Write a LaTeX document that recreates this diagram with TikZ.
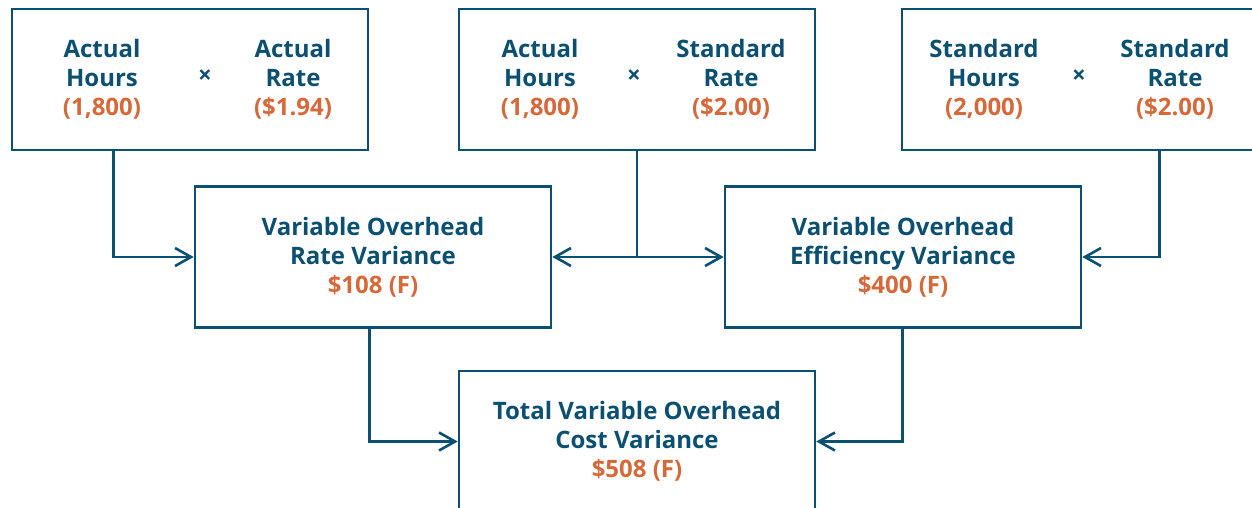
\documentclass[tikz,border=0pt]{standalone}
\usepackage{fontspec}
\setmainfont{Open Sans}
\usetikzlibrary{arrows.meta,positioning}
\definecolor{deepblue}{RGB}{11,79,113}
\definecolor{rust}{RGB}{213,105,57}
\tikzset{
  box/.style={draw=deepblue,line width=2.6pt,minimum width=356pt,minimum height=141pt,inner sep=0pt},
  lbl/.style={text=deepblue,font=\fontsize{24}{29}\selectfont\bfseries,align=center,inner sep=0pt},
  times/.style={text=deepblue,font=\fontsize{24}{29}\selectfont\bfseries,inner sep=0pt},
  link/.style={deepblue,line width=2.6pt,-{Straight Barb[length=16pt,width=18pt]}}
}
\begin{document}
\begin{tikzpicture}[x=1pt,y=-1pt]
  \clip (0,0) rectangle (1252,507);
  % top boxes
  \node[box] (hrsA) at (190,79.5) {};
  \node[box] (hrsB) at (637,79.5) {};
  \node[box] (hrsC) at (1080,79.5) {};
  \node[lbl] (aHrs) at (102,79) {Actual\\Hours\\\textcolor{rust}{(1,800)}};
  \node[times] (aTimes) at (205,77) {×};
  \node[lbl] (aRate) at (293,79) {Actual\\Rate\\\textcolor{rust}{(\$1.94)}};
  \node[lbl] (bHrs) at (540,79) {Actual\\Hours\\\textcolor{rust}{(1,800)}};
  \node[times] (bTimes) at (634,77) {×};
  \node[lbl] (bRate) at (731,79) {Standard\\Rate\\\textcolor{rust}{(\$2.00)}};
  \node[lbl] (cHrs) at (984,79) {Standard\\Hours\\\textcolor{rust}{(2,000)}};
  \node[times] (cTimes) at (1079,77) {×};
  \node[lbl] (cRate) at (1175,79) {Standard\\Rate\\\textcolor{rust}{(\$2.00)}};
  % variance boxes
  \node[box,lbl] (rateV) at (373,257) {Variable Overhead\\Rate Variance\\\textcolor{rust}{\$108 (F)}};
  \node[box,lbl] (effV) at (903,257) {Variable Overhead\\Efficiency Variance\\\textcolor{rust}{\$400 (F)}};
  \node[box,lbl] (totV) at (637,441.5) {Total Variable Overhead\\Cost Variance\\\textcolor{rust}{\$508 (F)}};
  % connectors
  \draw[link] (hrsA.south west) ++(103,0) |- (rateV);
  \draw[link,{Straight Barb[length=16pt,width=18pt]}-{Straight Barb[length=16pt,width=18pt]}] (rateV) -- (effV);
  \draw[deepblue,line width=2.6pt] (hrsB.south) -- (hrsB.south |- rateV.east);
  \draw[link] (hrsC.south west) ++(259,0) |- (effV);
  \draw[link] (rateV.south west) ++(176,0) |- (totV);
  \draw[link] (effV.south west) ++(179,0) |- (totV);
\end{tikzpicture}
\end{document}
